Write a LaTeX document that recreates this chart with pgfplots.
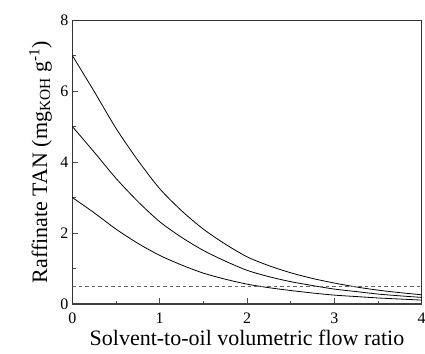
\documentclass[border=0pt]{standalone}
\usepackage{fontspec}
\setmainfont{Liberation Serif}
\usepackage{pgfplots}
\pgfplotsset{compat=1.18}
\begin{document}
\begin{tikzpicture}
\useasboundingbox (-72.3pt,-49pt) rectangle (352.7pt,304pt);
\begin{axis}[
  scale only axis,
  width=349.4pt, height=284pt,
  xmin=0, xmax=4, ymin=0, ymax=8,
  xtick={0,1,2,3,4}, ytick={0,2,4,6,8},
  minor x tick num=1, minor y tick num=1,
  tick align=inside,
  xtick pos=bottom, ytick pos=left,
  major tick length=6pt, minor tick length=3.5pt,
  tick style={line width=0.8pt, color=black!70},
  axis line style={line width=0.9pt, color=black!80},
  /pgf/number format/assume math mode=true,
  ticklabel style={font=\fontsize{16}{19}\selectfont},
  xticklabel style={anchor=base, yshift=-19.5pt},
  yticklabel style={anchor=east, xshift=-0.5pt},
  label style={font=\fontsize{22}{26}\selectfont},
  xlabel={Solvent-to-oil volumetric flow ratio},
  ylabel={Raffinate TAN (mg\textsubscript{KOH} g\textsuperscript{-1})},
  xlabel style={at={(axis description cs:0.5,-0.1444)}, anchor=base},
  ylabel style={at={(axis description cs:-0.0724,0.5)}, anchor=base},
  clip=true,
]
\addplot[black, line width=0.8pt, smooth] coordinates {
(0,7.00) (0.25,5.99) (0.5,4.95) (0.75,4.05) (1.0,3.25) (1.25,2.63) (1.5,2.11) (1.75,1.69)
(2.0,1.33) (2.25,1.08) (2.5,0.88) (2.75,0.72) (3.0,0.59) (3.25,0.48) (3.5,0.39) (3.75,0.32) (4.0,0.26)};
\addplot[black, line width=0.8pt, smooth] coordinates {
(0,5.00) (0.25,4.28) (0.5,3.54) (0.75,2.89) (1.0,2.32) (1.25,1.88) (1.5,1.51) (1.75,1.21)
(2.0,0.95) (2.25,0.77) (2.5,0.63) (2.75,0.52) (3.0,0.42) (3.25,0.35) (3.5,0.28) (3.75,0.23) (4.0,0.185)};
\addplot[black, line width=0.8pt, smooth] coordinates {
(0,3.00) (0.25,2.57) (0.5,2.11) (0.75,1.71) (1.0,1.37) (1.25,1.10) (1.5,0.87) (1.75,0.70)
(2.0,0.56) (2.25,0.46) (2.5,0.38) (2.75,0.31) (3.0,0.25) (3.25,0.21) (3.5,0.17) (3.75,0.14) (4.0,0.11)};
\addplot[black!60, line width=0.8pt, dash pattern=on 3.5pt off 3pt] coordinates {(0,0.5) (4,0.5)};
\draw[line width=1.6pt, black!75] (rel axis cs:0,0) -- (rel axis cs:1,0);
\end{axis}
\end{tikzpicture}
\end{document}
